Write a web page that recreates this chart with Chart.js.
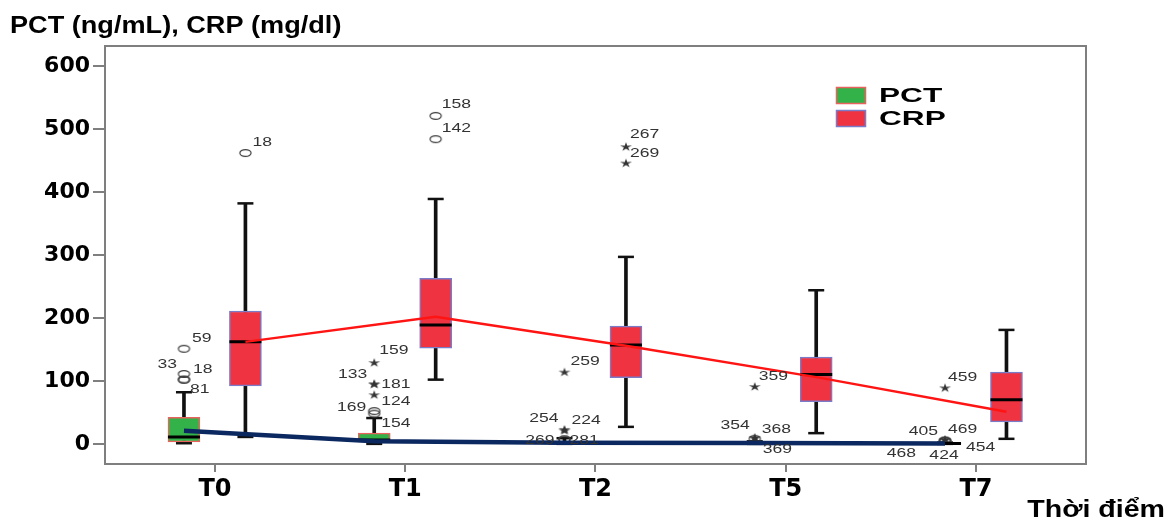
<!DOCTYPE html>
<html>
<head>
<meta charset="utf-8">
<title>PCT, CRP theo thời điểm</title>
<script src="https://cdn.jsdelivr.net/npm/chart.js"></script>
<style>
  html, body { margin: 0; padding: 0; background: #fff; }
</style>
</head>
<body>
<canvas id="boxChart" width="1176" height="523"></canvas>
<script>
const timeLabels = ['T0', 'T1', 'T2', 'T5', 'T7'];
const yTicks = [0, 100, 200, 300, 400, 500, 600];

// [lower whisker, Q1, median, Q3, upper whisker] per time point
const pctBox = [[1, 3, 11, 42, 82], [0, 3, 6, 17, 41], [0, 0.5, 1.2, 3, 9], [0, 0.3, 0.8, 2, 4], [0, 0.2, 0.5, 1, 2]];
const crpBox = [[11, 92, 162, 211, 382], [102, 152, 189, 263, 389], [27, 105, 157, 187, 297], [17, 67, 110, 138, 244], [8, 35, 70, 114, 181]];

const pctMean = [21, 4, 1.6, 1.5, 0.5];
const crpMean = [162, 202, 156, 106, 51];

// t = time index, v = value, id = case number, m = 'o' outlier / '*' extreme
const pctOutliers = [
  {t: 0, v: 151, id: '59', m: 'o'}, {t: 0, v: 111, id: '33', m: 'o'},
  {t: 0, v: 102, id: '18', m: 'o'}, {t: 0, v: 102, id: '81', m: 'o'},
  {t: 1, v: 129, id: '159', m: '*'}, {t: 1, v: 95, id: '133', m: '*'},
  {t: 1, v: 95, id: '181', m: '*'}, {t: 1, v: 78, id: '124', m: '*'},
  {t: 1, v: 52, id: '169', m: 'o'}, {t: 1, v: 48, id: '154', m: 'o'},
  {t: 2, v: 114, id: '259', m: '*'}, {t: 2, v: 23, id: '254', m: '*'},
  {t: 2, v: 21, id: '224', m: '*'}, {t: 2, v: 7, id: '269', m: 'o'},
  {t: 2, v: 7, id: '281', m: 'o'},
  {t: 3, v: 91, id: '359', m: '*'}, {t: 3, v: 10, id: '354', m: '*'},
  {t: 3, v: 9, id: '368', m: '*'}, {t: 3, v: 8, id: '369', m: 'o'},
  {t: 4, v: 89, id: '459', m: '*'}, {t: 4, v: 7, id: '405', m: '*'},
  {t: 4, v: 6, id: '469', m: '*'}, {t: 4, v: 5, id: '468', m: 'o'},
  {t: 4, v: 5, id: '424', m: 'o'}, {t: 4, v: 5, id: '454', m: 'o'}
];
const crpOutliers = [
  {t: 0, v: 462, id: '18', m: 'o'},
  {t: 1, v: 521, id: '158', m: 'o'}, {t: 1, v: 484, id: '142', m: 'o'},
  {t: 2, v: 472, id: '267', m: '*'}, {t: 2, v: 446, id: '269', m: '*'}
];

// where each case label sits next to its point: [dx, dy, align]
const pctLabelPlace = [
  [8, -10, 'left'], [-7, -10, 'right'], [9, -10, 'left'], [6, 10, 'left'],
  [5, -12, 'left'], [-7, -10, 'right'], [7, 0, 'left'], [7, 7, 'left'],
  [-8, -4, 'right'], [7, 10, 'left'],
  [6, -11, 'left'], [-6, -11, 'right'], [7, -10, 'left'], [-10, 1, 'right'], [5, 1, 'left'],
  [4, -10, 'left'], [-5, -12, 'right'], [7, -9, 'left'], [8, 11, 'left'],
  [3, -10, 'left'], [-7, -8, 'right'], [3, -11, 'left'], [-29, 13, 'right'], [-1, 15, 'center'], [21, 7, 'left']
];
const crpLabelPlace = [[7, -11, 'left'], [6, -11, 'left'], [6, -11, 'left'], [4, -12, 'left'], [4, -10, 'left']];

const pctShift = -0.163;
const crpShift = 0.16;

const pctFill = '#34b24a', pctEdge = '#e8625e';
const crpFill = '#ef3340', crpEdge = '#7a7cc8';

function makeRing() {
  const c = document.createElement('canvas');
  c.width = 15; c.height = 10;
  const g = c.getContext('2d');
  g.strokeStyle = '#3a3a3a';
  g.lineWidth = 1.2;
  g.beginPath();
  g.ellipse(7.5, 5, 5.6, 3.4, 0, 0, Math.PI * 2);
  g.stroke();
  return c;
}

function makeStar() {
  const c = document.createElement('canvas');
  c.width = 14; c.height = 11;
  const g = c.getContext('2d');
  g.fillStyle = '#333';
  g.beginPath();
  for (let k = 0; k < 10; k++) {
    const r = k % 2 ? 2.2 : 6.3;
    const a = -Math.PI / 2 + k * Math.PI / 5;
    const px = 7 + r * Math.cos(a), py = 5.8 + r * Math.sin(a) * 0.75;
    if (k) g.lineTo(px, py); else g.moveTo(px, py);
  }
  g.closePath();
  g.fill();
  return c;
}

const ringImg = makeRing();
const starImg = makeStar();

function at(shift, idx) { return idx + shift; }

function whiskerData(box, shift) { return box.map((b, i) => ({x: at(shift, i), y: [b[0], b[4]]})); }
function boxData(box, shift) { return box.map((b, i) => ({x: at(shift, i), y: [b[1], b[3]]})); }
function capData(box, shift) {
  const pts = [];
  box.forEach((b, i) => { pts.push({x: at(shift, i), y: b[0]}); pts.push({x: at(shift, i), y: b[4]}); });
  return pts;
}
function medianData(box, shift) { return box.map((b, i) => ({x: at(shift, i), y: b[2]})); }
function outData(list, shift, mark) {
  return list.filter(o => o.m === mark).map(o => ({x: at(shift, o.t), y: o.v}));
}

function drawStretched(g, text, x, y, align, sx) {
  g.save();
  g.translate(x, y);
  g.scale(sx, 1);
  g.textAlign = align;
  g.fillText(text, 0, 0);
  g.restore();
}

const framePlugin = {
  id: 'frame',
  beforeDatasetsDraw(chart) {
    const a = chart.chartArea, g = chart.ctx;
    g.save();
    g.strokeStyle = '#7f7f7f';
    g.lineWidth = 2;
    g.strokeRect(a.left, a.top, a.right - a.left, a.bottom - a.top);
    g.restore();
  }
};

const textPlugin = {
  id: 'texts',
  afterDatasetsDraw(chart) {
    const g = chart.ctx, xs = chart.scales.x, ys = chart.scales.y;
    g.save();
    g.fillStyle = '#333';
    g.font = '13px "Liberation Sans"';
    g.textBaseline = 'middle';
    const labelSet = (list, place, shift) => {
      list.forEach((o, i) => {
        const p = place[i];
        drawStretched(g, o.id, xs.getPixelForValue(o.t + shift) + p[0], ys.getPixelForValue(o.v) + p[1], p[2], 1.35);
      });
    };
    labelSet(pctOutliers, pctLabelPlace, pctShift);
    labelSet(crpOutliers, crpLabelPlace, crpShift);

    // legend
    const items = [['PCT', pctFill, pctEdge, 87], ['CRP', crpFill, crpEdge, 110]];
    items.forEach(([name, fill, edge, top]) => {
      g.fillStyle = fill;
      g.fillRect(836, top, 30, 17);
      g.strokeStyle = edge;
      g.lineWidth = 1.5;
      g.strokeRect(836.5, top + 0.5, 29, 16);
      g.fillStyle = '#000';
      g.font = 'bold 20px "Liberation Sans"';
      drawStretched(g, name, 879, top + 9, 'left', 1.58);
    });

    // titles
    g.fillStyle = '#000';
    g.textBaseline = 'alphabetic';
    g.font = 'bold 24px "Liberation Sans"';
    drawStretched(g, 'PCT (ng/mL), CRP (mg/dl)', 10, 33, 'left', 1.13);
    drawStretched(g, 'Thời điểm', 1165, 517, 'right', 1.19);
    g.restore();
  }
};

const axisTicks = {color: '#7f7f7f', lineWidth: 2, drawOnChartArea: false, drawTicks: true, offset: false};

new Chart(document.getElementById('boxChart'), {
  type: 'bar',
  data: {
    datasets: [
      {type: 'line', data: pctMean.map((v, i) => ({x: at(pctShift, i), y: v})), borderColor: '#0b2860', borderWidth: 4.5, pointRadius: 0, order: 0},
      {type: 'line', data: crpMean.map((v, i) => ({x: at(crpShift, i), y: v})), borderColor: '#ff1414', borderWidth: 2.5, pointRadius: 0, order: 0},
      {type: 'line', showLine: false, data: medianData(pctBox, pctShift).concat(medianData(crpBox, crpShift)),
        pointStyle: 'line', pointRadius: 16, pointBorderWidth: 3, pointBorderColor: '#000', order: 1},
      {type: 'line', showLine: false, data: outData(pctOutliers, pctShift, 'o').concat(outData(crpOutliers, crpShift, 'o')),
        pointStyle: ringImg, order: 1},
      {type: 'line', showLine: false, data: outData(pctOutliers, pctShift, '*').concat(outData(crpOutliers, crpShift, '*')),
        pointStyle: starImg, order: 1},
      {data: boxData(pctBox, pctShift), backgroundColor: pctFill, borderColor: pctEdge, borderWidth: 1.5,
        borderSkipped: false, barThickness: 32, grouped: false, order: 2},
      {data: boxData(crpBox, crpShift), backgroundColor: crpFill, borderColor: crpEdge, borderWidth: 1.5,
        borderSkipped: false, barThickness: 32, grouped: false, order: 2},
      {type: 'line', showLine: false, data: capData(pctBox, pctShift).concat(capData(crpBox, crpShift)),
        pointStyle: 'line', pointRadius: 8, pointBorderWidth: 2.5, pointBorderColor: '#111', order: 3},
      {data: whiskerData(pctBox, pctShift).concat(whiskerData(crpBox, crpShift)), backgroundColor: '#111',
        barThickness: 3, grouped: false, order: 4}
    ]
  },
  options: {
    responsive: false,
    animation: false,
    layout: {padding: {left: 0, top: 46, right: 90, bottom: 0}},
    plugins: {legend: {display: false}, tooltip: {enabled: false}},
    scales: {
      x: {
        type: 'linear', min: -0.578, max: 4.578, offset: false,
        afterBuildTicks: s => { s.ticks = timeLabels.map((_, i) => ({value: i})); },
        afterFit: s => { s.height = 59; },
        grid: Object.assign({tickLength: 8}, axisTicks),
        border: {display: true, color: '#7f7f7f', width: 2},
        ticks: {callback: v => timeLabels[v], color: '#000', padding: 3,
          font: {family: 'DejaVu Sans', weight: 'bold', size: 24}, maxRotation: 0}
      },
      y: {
        min: -32, max: 632,
        afterBuildTicks: s => { s.ticks = yTicks.map(v => ({value: v})); },
        afterFit: s => { s.width = 105; },
        grid: Object.assign({tickLength: 12}, axisTicks),
        border: {display: true, color: '#7f7f7f', width: 2},
        ticks: {color: '#000', padding: 3, font: {family: 'DejaVu Sans', weight: 'bold', size: 22}}
      }
    }
  },
  plugins: [framePlugin, textPlugin]
});
</script>
</body>
</html>
